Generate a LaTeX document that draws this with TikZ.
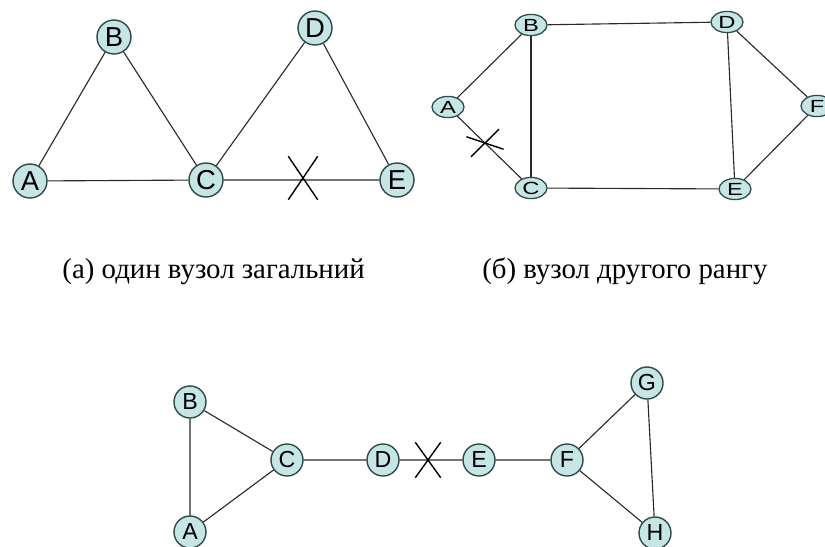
\documentclass[tikz,border=0pt]{standalone}
\usepackage{fontspec}
\usepackage{graphicx}
\setmainfont{Liberation Serif}
\setsansfont{Liberation Sans}
\usetikzlibrary{shapes.geometric,shapes.misc}
\definecolor{nodeFill}{HTML}{C6E5E5}
\definecolor{nodeRim}{HTML}{2F4A4A}
\definecolor{linkGray}{HTML}{2A2A2A}
\newcommand{\widetag}[1]{\scalebox{1.35}[1]{#1}}

\begin{document}
\begin{tikzpicture}[
  x=0.025cm, y=-0.025cm,
  bigvert/.style={circle,draw=nodeRim,fill=nodeFill,line width=1pt,minimum size=.85cm,inner sep=0pt,font=\sffamily\fontsize{19.5}{20}\selectfont},
  flatvert/.style={ellipse,draw=nodeRim,fill=nodeFill,line width=.9pt,minimum width=.8cm,minimum height=.53cm,inner sep=0pt,font=\sffamily\fontsize{12.5}{12}\selectfont},
  smallvert/.style={circle,draw=nodeRim,fill=nodeFill,line width=1pt,minimum size=.8cm,inner sep=0pt,font=\sffamily\fontsize{16.5}{17}\selectfont},
  link/.style={draw=linkGray,line width=.8pt},
  cutmark/.style={cross out,draw=black,line width=1pt,inner sep=0pt},
  caption/.style={inner sep=0pt,font=\fontsize{20.5}{22}\selectfont}
]
  \useasboundingbox (0,0) rectangle (825,547);

  % (a)
  \foreach \n/\x/\y in {A/30/181,B/114/37,C/206/180,D/315/28,E/397/180}
    \node[bigvert] (a\n) at (\x,\y) {\n};
  \draw[link] (aA) -- (aB) -- (aC) -- (aD) -- (aE) -- (aC) -- (aA);
  \node[cutmark,minimum width=.7cm,minimum height=1.05cm] (cutA) at (303,178) {};

  % (b)
  \foreach \n/\x/\y in {A/448/107,B/531/25,C/531/188,D/727/22,E/735/189,F/817/106}
    \node[flatvert] (b\n) at (\x,\y) {\widetag{\n}};
  \draw[link] (bA) -- (bB) -- (bD) -- (bF) -- (bE) -- (bC) -- (bA);
  \draw[link] (bB) -- (bC);
  \draw[link] (bD) -- (bE);
  \node[cutmark,rotate=13,minimum width=.8cm,minimum height=.48cm] (cutB) at (485,143) {};

  \node[caption,anchor=base east] (capA) at (365,278) {(а) один вузол загальний};
  \node[caption,anchor=base west] (capB) at (482,278) {(б) вузол другого рангу};

  % (c)
  \foreach \n/\x/\y in {A/190/532,B/190/402,C/287/460,D/383/460,E/479/460,F/567/460,G/647/383,H/655/533}
    \node[smallvert] (c\n) at (\x,\y) {\n};
  \draw[link] (cA) -- (cB) -- (cC) -- (cA);
  \draw[link] (cC) -- (cD) -- (cE) -- (cF) -- (cG) -- (cH) -- (cF);
  \node[cutmark,minimum width=.6cm,minimum height=.85cm] (cutC) at (428,460) {};
\end{tikzpicture}
\end{document}
